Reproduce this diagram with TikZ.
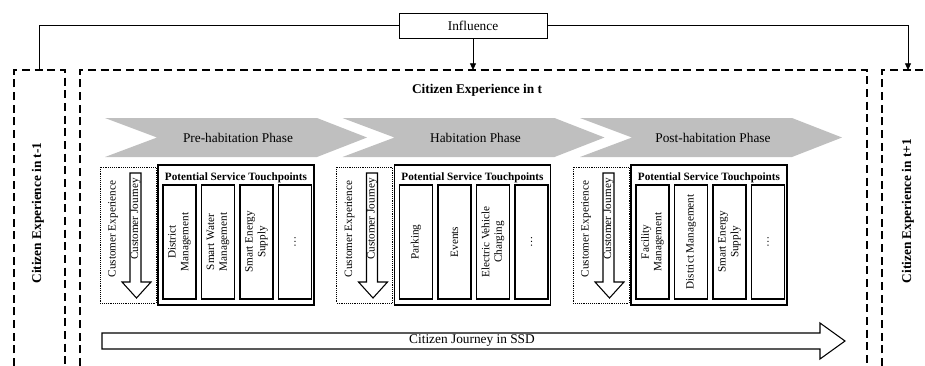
\documentclass[tikz,border=0pt]{standalone}
\usepackage{fontspec}
\setmainfont{Liberation Serif}
\usetikzlibrary{arrows.meta}
\begin{document}
\begin{tikzpicture}
[x=0.75pt,y=-0.75pt,
  dashdecorate/.style={line width=1pt,dash pattern=on 6pt off 3.5pt},%
  linedecorate/.style={line width=0.6pt},%
  arrowdecorate/.style={line width=0.6pt,-{Triangle[length=5pt,width=4.5pt]}},%
  phasedecorate/.style={fill=black!25,draw=none},%
  boxdecorate/.style={draw,line width=0.8pt},%
  dotdecorate/.style={draw,line width=0.4pt,densely dotted},%
  tpdecorate/.style={draw,line width=0.9pt,rotate=90,minimum width=85.5pt,
    minimum height=24.75pt,inner sep=1pt,align=center,font=\fontsize{8.4}{9.4}\selectfont},%
  smalltext/.style={font=\fontsize{8.4}{9.4}\selectfont},%
  boldlabel/.style={font=\bfseries}]
\useasboundingbox (0,0) rectangle (925,365);
%% experience frames
\draw[dashdecorate] (14,366) -- (14,70) -- (65,70) -- (65,366);
\draw[dashdecorate] (80,366) -- (80,70) -- (867,70) -- (867,366);
\draw[dashdecorate] (882,366) -- (882,70) -- (930,70);
\node (prevlabel) at (38,213) [boldlabel,rotate=90] {Citizen Experience in t-1};
\node (currlabel) at (477,90) [boldlabel] {Citizen Experience in t};
\node (nextlabel) at (908,211) [boldlabel,rotate=90] {Citizen Experience in t+1};
%% influence
\node (infl) at (473,25.5) [draw,linedecorate,minimum width=111pt,minimum height=18.75pt] {Influence};
\coordinate (prev) at (39,70);
\coordinate (curr) at (473,70);
\coordinate (next) at (908,70);
\draw[linedecorate] (infl.west) -| (prev);
\draw[arrowdecorate] (infl.south) -- (curr);
\draw[arrowdecorate] (infl.east) -| (next);
%% phases
\foreach \cx/\phasename/\phase in {105/pre/Pre-habitation Phase,
  342.5/hab/Habitation Phase, 580/post/Post-habitation Phase} {
  \fill[phasedecorate] (\cx,118) -- (\cx+212,118) -- (\cx+262,137.5)
    -- (\cx+212,157) -- (\cx,157) -- (\cx+52,137.5) -- cycle;
  \node (\phasename) at (\cx+133,137.5) {\phase};
}
%% touchpoint sections
\foreach \sx/\sn/\tpa/\tpb/\tpc in {100/pre/{District\\Management}/{Smart Water\\Management}/{Smart Energy\\Supply},
  336.5/hab/Parking/Events/{Electric Vehicle\\Charging},
  573/post/{Facility\\Management}/District Management/{Smart Energy\\Supply}} {
  \draw[dotdecorate] (\sx,167) rectangle (\sx+56,303);
  \draw[boxdecorate] (\sx+58,165) rectangle (\sx+214,305);
  \draw[line width=0.8pt,fill=white] (\sx+30,173) -- (\sx+41,173) -- (\sx+41,282)
    -- (\sx+51,282) -- (\sx+36.5,298) -- (\sx+22,282) -- (\sx+30,282) -- cycle;
  \node (\sn ce) at (\sx+13,229) [smalltext,rotate=90] {Customer Experience};
  \node (\sn cj) at (\sx+35.5,219) [smalltext,rotate=90] {Customer Journey};
  \node (\sn pst) at (\sx+136,178) [smalltext,font=\fontsize{8.4}{9.4}\selectfont\bfseries] {Potential Service Touchpoints};
  \foreach \k/\tp in {0/\tpa, 1/\tpb, 2/\tpc, 3/\dots} {
    \node (\sn tp\k) at (\sx+79.5+\k*38.5,242) [tpdecorate] {\tp};
  }
}
%% citizen journey
\draw[line width=0.8pt] (102,333) -- (820,333) -- (820,323) -- (845,341)
  -- (820,359) -- (820,349) -- (102,349) -- cycle;
\node (journey) at (472,341) {Citizen Journey in SSD};
\end{tikzpicture}
\end{document}
